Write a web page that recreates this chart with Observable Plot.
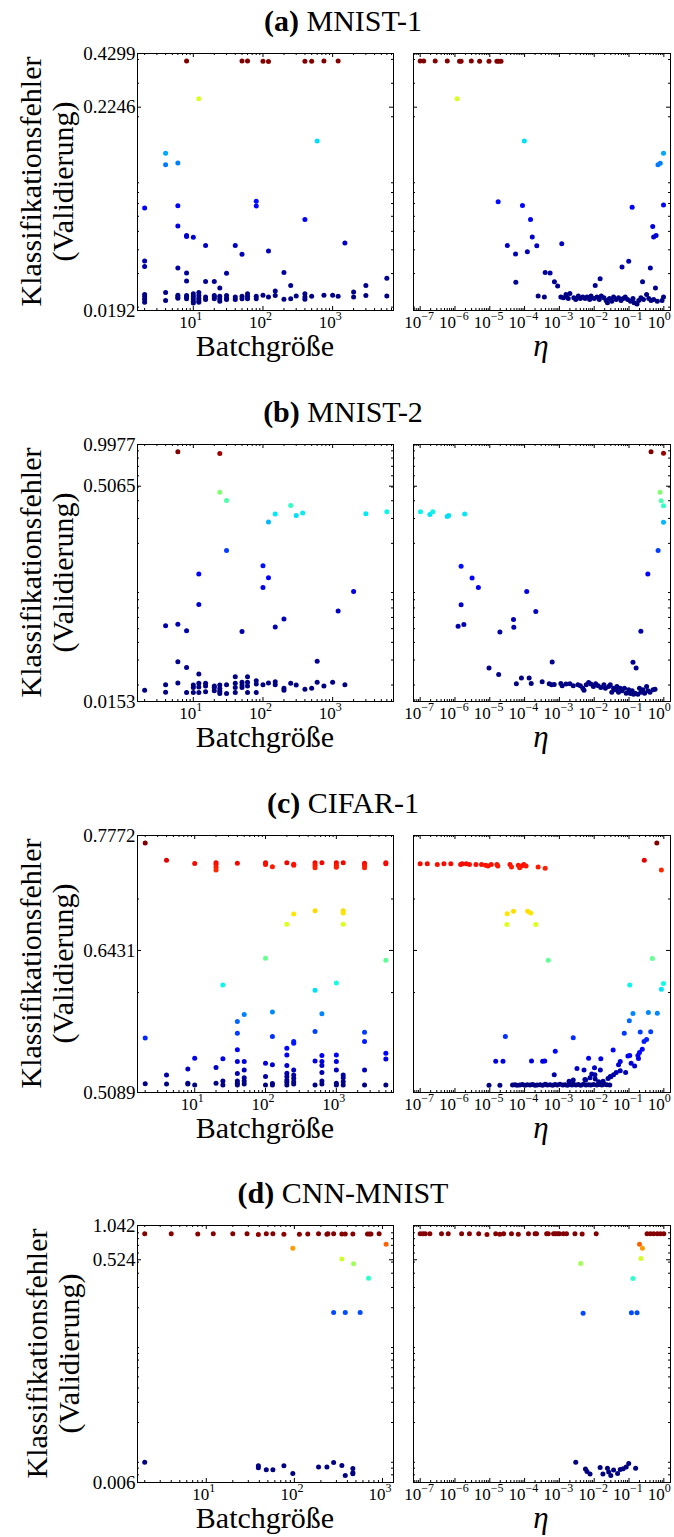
<!DOCTYPE html>
<html><head><meta charset="utf-8">
<script src="https://cdn.jsdelivr.net/npm/d3@7"></script>
<script src="https://cdn.jsdelivr.net/npm/@observablehq/plot@0.6"></script>
<style>
body{margin:0;background:#fff;}
#fig{position:relative;width:674px;height:1537px;overflow:hidden;background:#fff;}
#fig svg{position:absolute;}
</style></head><body><div id="fig"></div>
<script>
// ---------- tick labels / axis limits ----------
const aErrTicks = ["0.0192","0.2246","0.4299"];
const bErrTicks = ["0.0153","0.5065","0.9977"];
const cErrTicks = ["0.5089","0.6431","0.7772"];
const dErrTicks = ["0.006","0.524","1.042"];
const batchMajor = [10,100,1000];
const etaMajor = [1e-7,1e-6,1e-5,1e-4,1e-3,1e-2,1e-1,1];
const abBatchDomain = [1.58,7480];
const cBatchDomain = [1.557,6410];
const dBatchDomain = [1.656,1334];
const etaDomain = [6.43e-8,1.556];
const titles = [["(a)"," MNIST-1"],["(b)"," MNIST-2"],["(c)"," CIFAR-1"],["(d)"," CNN-MNIST"]];

// ---------- data: [batch size, error] and [eta, error] ----------
const aBatchPts = [[8,.393],[50,.393],[60,.393],[100,.392],[120,.390],[400,.392],[500,.392],[750,.393],[1200,.393],
[12,.249],[600,.149],[4,.1285],[4,.112],[6,.1143],
[2,.0664],[6,.0682],[80,.0719],[80,.068],[400,.0578],[6,.0533],[8,.0476],[8,.047],[10,.0466],[1500,.0434],[15,.0421],[40,.0422],[120,.0394],[50,.0379],[2,.0349],[2,.0327],[6,.0321],[200,.0304],[8,.0302],[30,.0301],[6000,.0284],[8,.0274],[15,.0273],[20,.0273],[3000,.026],[250,.026],[24,.0252],
[2,.0233],[2,.0226],[2,.0219],[2,.0212],[4,.0239],[4,.0217],[6,.0231],[6,.0226],[6,.0223],[8,.023],[8,.0226],[8,.0221],[10,.0235],[10,.0228],[10,.0221],[10,.0215],[10,.021],[12,.0239],[12,.023],[12,.0223],[12,.0217],[12,.0212],[15,.0226],[15,.0219],[20,.023],[20,.0226],[20,.0221],[24,.0228],[24,.0221],[24,.0215],[30,.023],[30,.0223],[30,.0219],[40,.0226],[40,.0219],[50,.0228],[50,.0221],[60,.0235],[60,.0228],[60,.0221],[80,.0228],[80,.0221],[100,.0231],[120,.0226],[150,.0243],[150,.023],[200,.022],[250,.0221],[300,.0229],[400,.0235],[400,.0226],[400,.022],[500,.0228],[750,.0231],[1000,.0231],[1200,.0228],[2000,.024],[2000,.0226],[3000,.023],[6000,.0229]];
const aEtaPts = [[1e-7,.393],[1.26e-7,.393],[2.7e-7,.393],[6e-7,.393],[1.35e-6,.392],[1.5e-6,.392],[2.95e-6,.393],[5.1e-6,.392],[9.5e-6,.391],[1.6e-5,.392],[1.8e-5,.392],[2.1e-5,.392],
[1.15e-6,.249],[9.8e-5,.149],[.98,.1285],[.68,.112],[.79,.114],
[1.74e-5,.0716],[8.7e-5,.0684],[.98,.0688],[.123,.067],[1.48e-4,.0578],[.48,.053],[.51,.0467],[.6,.0476],[1.66e-4,.0467],[3.2e-5,.0421],[2.24e-4,.042],[1.17e-3,.043],[1.2e-4,.0391],[5.5e-5,.038],[.098,.0348],[.063,.0325],[.41,.0321],[3.9e-4,.0304],[5.4e-4,.0302],[.0148,.0282],[7.2e-4,.0272],[5.6e-5,.027],[.245,.0272],[.0107,.026],[8.9e-4,.0258],[.575,.0252],[2.45e-4,.0229],[3.7e-4,.0226],[1.55e-3,.0233],[2e-3,.0236],
[1.1e-3,.0226],[1.3e-3,.0224],[1.6e-3,.0226],[1.8e-3,.0222],[2.6e-3,.0224],[2.95e-3,.0219],[3.5e-3,.0229],[4e-3,.0222],[4.7e-3,.0226],[5.5e-3,.0222],[6.2e-3,.0226],[7.4e-3,.0219],[8.1e-3,.0229],[.01,.0222],[.012,.0226],[.014,.0219],[.016,.0229],[.019,.0224],[.022,.0217],[.024,.0211],[.0275,.0222],[.032,.0215],[.036,.0226],[.043,.0219],[.05,.0224],[.059,.0217],[.068,.0222],[.078,.0226],[.091,.0219],[.11,.0215],[.13,.0222],[.14,.0211],[.17,.0208],[.19,.0217],[.22,.0224],[.26,.0219],[.32,.0233],[.37,.0222],[.43,.0217],[.51,.0219],[.65,.0215],[.89,.0217],[.98,.0226]];

const bBatchPts = [[6,.885],[24,.862],[24,.459],[30,.401],[250,.370],[150,.323],[300,.314],[372,.327],[120,.2836],[3000,.324],[6000,.335],[30,.178],[100,.139],[12,.1215],[120,.1145],[100,.0977],[2000,.0916],[12,.0741],[1200,.0665],[200,.0584],[4,.0525],[6,.0538],[150,.0513],[8,.0483],[50,.0478],[6,.0292],[600,.0294],[8,.0266],[12,.0239],
[2,.0184],[4,.0201],[4,.0178],[6,.0207],[8,.0177],[10,.02],[10,.0192],[10,.0177],[12,.0206],[12,.0194],[12,.0177],[15,.0206],[15,.0197],[15,.0179],[20,.0197],[20,.0192],[20,.0182],[24,.02],[24,.0189],[24,.0181],[24,.0174],[30,.0201],[30,.0174],[40,.0229],[40,.0206],[40,.0192],[40,.0177],[50,.0209],[50,.02],[50,.0192],[60,.0229],[60,.0209],[60,.0197],[60,.0177],[80,.0214],[80,.0203],[80,.0177],[100,.0201],[120,.0207],[150,.0211],[150,.0201],[200,.019],[200,.0184],[250,.0206],[300,.02],[400,.0187],[500,.019],[600,.0209],[750,.0197],[1000,.0209],[1500,.0201]];
const bEtaPts = [[.43,.885],[.98,.866],[.78,.459],[.84,.40],[.98,.369],[.98,.282],[.685,.178],[.347,.1216],[.219,.048],
[1.02e-7,.334],[1.9e-7,.32],[2.3e-7,.334],[6e-7,.31],[6.6e-7,.315],[1.9e-6,.323],
[1.5e-6,.138],[3.1e-6,.1137],[4.7e-6,.0977],[1.15e-4,.0915],[1.5e-6,.0737],[2.1e-4,.066],[4.8e-5,.058],[1.23e-6,.052],[1.8e-6,.0535],[4.9e-5,.0512],[1.95e-5,.0474],[6.2e-4,.0291],[.13,.029],[.16,.0264],[9.5e-6,.0264],[1.8e-5,.0237],[8.1e-5,.0224],[1.35e-4,.0224],[5.8e-5,.0204],[1.55e-4,.0205],[3.2e-4,.0211],
[5.1e-4,.0204],[6e-4,.0201],[7.1e-4,.0202],[1.1e-3,.0205],[1.2e-3,.0198],[1.55e-3,.0203],[2e-3,.0204],[2.5e-3,.0198],[3.4e-3,.0201],[4e-3,.0198],[4.7e-3,.019],[5.1e-3,.0184],[5.9e-3,.0201],[6.9e-3,.0208],[8e-3,.0203],[9.5e-3,.0195],[.011,.0204],[.013,.0198],[.0155,.0192],[.019,.0201],[.021,.019],[.026,.0195],[.029,.0201],[.032,.0178],[.036,.019],[.041,.0185],[.045,.0195],[.05,.0178],[.056,.019],[.063,.0182],[.074,.019],[.083,.0175],[.098,.0185],[.11,.0174],[.123,.0182],[.135,.0172],[.15,.0175],[.18,.0172],[.2,.019],[.22,.0178],[.25,.0185],[.28,.0175],[.32,.0195],[.35,.0182],[.4,.0178],[.49,.0185],[.56,.0187]];

const cBatchPts = [[2,.7677],[2,.5566],[2,.5163],[4,.746],[4,.5237],[4,.516],[8,.529],[8,.5167],[8,.516],[10,.7423],[10,.5385],[10,.5153],
[20,.743],[20,.741],[20,.7376],[20,.7344],[20,.5302],[20,.5167],[25,.6074],[25,.538],[25,.5186],[25,.5153],
[40,.7425],[40,.5721],[40,.561],[40,.546],[40,.5355],[40,.525],[40,.5186],[40,.5167],[40,.5153],
[50,.5787],[50,.5355],[50,.5282],[50,.5215],[50,.5186],[50,.516],
[100,.6349],[100,.743],[100,.741],[100,.534],[100,.5224],[100,.5153],
[125,.7381],[125,.581],[125,.5582],[125,.5326],[125,.5165],[125,.5153],
[200,.6716],[200,.743],[200,.5475],[200,.5414],[200,.532],[200,.5253],[200,.5224],[200,.5195],[200,.5176],[200,.5153],
[250,.6829],[250,.7413],[250,.74],[250,.5536],[250,.552],[250,.5282],[250,.5238],[250,.521],[250,.5181],[250,.516],
[500,.6866],[500,.743],[500,.74],[500,.737],[500,.6024],[500,.5627],[500,.536],[500,.5153],
[625,.743],[625,.5794],[625,.5409],[625,.5355],[625,.532],[625,.526],[625,.5186],[625,.516],
[1000,.743],[1000,.74],[1000,.7376],[1000,.6094],[1000,.5414],[1000,.5355],[1000,.5282],[1000,.5167],[1000,.5153],
[1250,.743],[1250,.6866],[1250,.684],[1250,.6716],[1250,.5238],[1250,.5215],[1250,.5181],[1250,.5153],
[2500,.7425],[2500,.74],[2500,.737],[2500,.562],[2500,.5536],[2500,.5282],[2500,.5153],
[5000,.743],[5000,.742],[5000,.6328],[5000,.543],[5000,.5378],[5000,.5153]];
const cEtaPts = [[.63,.7677],[.275,.7462],[.85,.7344],
[1e-7,.742],[1.6e-7,.742],[3.1e-7,.741],[4.8e-7,.742],[7.6e-7,.742],[1.45e-6,.741],[1.6e-6,.742],[2.1e-6,.742],[2.6e-6,.741],[4e-6,.741],[5.8e-6,.741],[7.6e-6,.740],[8.9e-6,.739],[1.1e-5,.741],[1.6e-5,.741],[1.7e-5,.739],[3.8e-5,.741],[4.2e-5,.738],[6.6e-5,.740],[7.2e-5,.737],[8.2e-5,.739],[9.5e-5,.741],[1.1e-4,.739],[2.45e-4,.738],[3.9e-4,.7365],
[3.16e-5,.6833],[4.8e-5,.6859],[1.23e-4,.6859],[1.5e-4,.684],[3.1e-5,.6712],[2.1e-4,.6712],
[4.8e-4,.6328],[.47,.6345],[.105,.6074],[.98,.609],[.85,.6032],
[.36,.5807],[.65,.58],[.13,.5797],[.102,.5728],[.073,.561],[.21,.5622],[.42,.5625],[2.8e-5,.5582],[2.5e-3,.557],
[.32,.5553],[.27,.5536],[.24,.5466],[.2,.5436],[.035,.5459],[.105,.541],[.093,.5405],[.18,.541],[.187,.5382],[.115,.534],[.145,.5317],[7.6e-4,.5446],[1.48e-5,.5358],[2.4e-5,.5358],[1.58e-4,.536],[3.3e-4,.5358],[3.8e-4,.536],[6.9e-3,.5385],[.0155,.538],[.015,.5282],[.0102,.53],[3.2e-3,.5295],[5.1e-3,.5282],[.056,.5356],[.056,.5275],[.05,.5327],[.043,.526],[.08,.526],[.036,.5239],[.029,.5225],[7.1e-4,.5241],
[9.5e-6,.515],[1.95e-5,.515],[4.5e-5,.5152],[5.3e-5,.5155],[6.1e-5,.515],[7.3e-5,.5153],[8.6e-5,.5156],[1.02e-4,.515],[1.19e-4,.5154],[1.43e-4,.5152],[1.7e-4,.5157],[1.99e-4,.5151],[2.3e-4,.5153],[2.8e-4,.5155],[3.3e-4,.515],[3.9e-4,.5158],[4.5e-4,.5152],[5.4e-4,.5154],[6.4e-4,.5151],[7.5e-4,.5156],[8.7e-4,.5153],[1.04e-3,.5159],[1.25e-3,.5152],[1.46e-3,.5155],[1.7e-3,.5151],[2e-3,.5157],[2.3e-3,.5153],[2.5e-3,.516],[3e-3,.5152],[3.5e-3,.5156],[4.1e-3,.5151],[4.9e-3,.5158],[5.8e-3,.5153],[6.9e-3,.5155],[8e-3,.5152],[9.6e-3,.5157],[.0119,.5153],[.0139,.5156],[.0166,.5152],[.0194,.5158],[.023,.5155],[.028,.5153],
[1.9e-3,.5184],[2.5e-3,.5194],[5.4e-3,.52],[7.6e-3,.5215],[.0107,.5203],[.0134,.518],[.018,.5184],[.025,.5208],[.03,.5222],[.0105,.5241],[8.5e-3,.5246],[5.7e-3,.5195]];

const dBatchPts = [[2,.881],[4,.881],[8,.879],[12,.881],[20,.885],[29,.883],[39,.872],[48,.881],[57,.881],[76,.876],[114,.876],[142,.879],[188,.881],[234,.876],[240,.885],[279,.885],[346,.879],[378,.879],[461,.879],[676,.879],[713,.879],[740,.879],[916,.885],
[96,.661],[1100,.716],[346,.533],[470,.4825],[695,.3617],[279,.1815],[378,.1815],[558,.1815],
[2,.00903],[39,.00839],[39,.00806],[48,.00774],[57,.00774],[76,.00839],[96,.00719],[188,.00817],[234,.0082],[279,.00897],[346,.00846],[378,.0069],[461,.00794],[461,.0073],[461,.00715]];
const dEtaPts = [[1e-7,.881],[1.2e-7,.881],[1.4e-7,.881],[1.9e-7,.881],[4.1e-7,.881],[6.4e-7,.881],[1.55e-6,.881],[2.6e-6,.881],[4.8e-6,.881],[8.3e-6,.872],[1.48e-5,.881],[1.95e-5,.876],[2.5e-5,.881],[4.2e-5,.881],[6.6e-5,.876],[1.29e-4,.881],[2e-4,.885],[2.2e-4,.881],[4.3e-4,.881],[4.8e-4,.881],[6.8e-4,.881],[7.6e-4,.881],[8.8e-4,.881],[1e-3,.885],[1.3e-3,.885],[1.6e-3,.881],[2.8e-3,.885],[4.5e-3,.879],[1.14e-2,.885],[.33,.881],[.41,.881],[.51,.881],[.65,.881],[.8,.881],[1,.881],
[.2,.716],[.243,.661],[.22,.537],[4.1e-3,.486],[.13,.359],[4.8e-3,.179],[.117,.181],[.17,.181],
[2.95e-3,.00903],[5.6e-3,.00787],[6.2e-3,.0075],[7.6e-3,.0071],[.0148,.0081],[.0178,.0071],[.024,.008],[.026,.0074],[.03,.0069],[.036,.0077],[.047,.0072],[.056,.0078],[.068,.0079],[.083,.0082],[.098,.0088],[.155,.008]];

// ---------- jet colormap (matplotlib segment definition) ----------
const jetR = [[0,0],[0.35,0],[0.66,1],[0.89,1],[1,0.5]];
const jetG = [[0,0],[0.125,0],[0.375,1],[0.64,1],[0.91,0],[1,0]];
const jetB = [[0,0.5],[0.11,1],[0.34,1],[0.65,0],[1,0]];
function seg(s, t) {
  for (let i = 1; i < s.length; i++) {
    if (t <= s[i][0]) { const [x0,y0] = s[i-1], [x1,y1] = s[i]; return y0 + (y1-y0)*(t-x0)/(x1-x0); }
  }
  return s[s.length-1][1];
}
function jet(t) {
  const u = Math.max(0, Math.min(1, t));
  return `rgb(${Math.round(255*seg(jetR,u))},${Math.round(255*seg(jetG,u))},${Math.round(255*seg(jetB,u))})`;
}

const expo = d => String(Math.round(Math.log10(d))).replace("-", "\u2212");

function subTicks(domain) {
  const out = [];
  for (let n = Math.floor(Math.log10(domain[0])); n <= Math.ceil(Math.log10(domain[1])); n++)
    for (let k = 2; k <= 9; k++) { const v = k * Math.pow(10, n); if (v >= domain[0] && v <= domain[1]) out.push(v); }
  return out;
}

const FONT = "'Liberation Serif', 'DejaVu Serif', serif";
const fig = document.getElementById("fig");
const H = 257, MT = 12, MB = 34;

function panel(pts, {xDomain, xMajor, yLabels, left, top, frameW, mL, mR, showY, baseDx}) {
  const yVals = yLabels.map(Number);
  const yDomain = [yVals[0], yVals[yVals.length-1]];
  const xMaj = xMajor.filter(v => v >= xDomain[0] && v <= xDomain[1]);
  const xMin = subTicks(xDomain);
  const yMin = subTicks(yDomain);
  const W = frameW;
  const marks = [
    Plot.tickX(xMaj, {x: d => d, insetBottom: H - 4, stroke: "black"}),
    Plot.tickX(xMaj, {x: d => d, insetTop: H - 4, stroke: "black"}),
    Plot.tickX(xMin, {x: d => d, insetBottom: H - 2, stroke: "black"}),
    Plot.tickX(xMin, {x: d => d, insetTop: H - 2, stroke: "black"}),
    Plot.tickY(yVals, {y: d => d, insetRight: W - 4, stroke: "black"}),
    Plot.tickY(yVals, {y: d => d, insetLeft: W - 4, stroke: "black"}),
    Plot.tickY(yMin, {y: d => d, insetRight: W - 2, stroke: "black"}),
    Plot.tickY(yMin, {y: d => d, insetLeft: W - 2, stroke: "black"}),
    // x tick labels: "10" with superscript exponent
    Plot.text(xMaj, {x: d => d, text: () => "10", frameAnchor: "bottom", lineAnchor: "top", textAnchor: "end", dx: baseDx, dy: 5, fontSize: 17, fill: "black"}),
    Plot.text(xMaj, {x: d => d, text: expo, frameAnchor: "bottom", lineAnchor: "top", textAnchor: "start", dx: baseDx, dy: 1, fontSize: 12, fill: "black"}),
    Plot.dot(pts, {x: d => d[0], y: d => d[1], fill: d => d[1], r: 2.5}),
    Plot.frame({stroke: "black", strokeWidth: 1})
  ];
  if (showY) marks.push(Plot.text(yVals, {y: d => d, text: (d, i) => yLabels[i], frameAnchor: "left", textAnchor: "end", dx: -2, fontSize: 19, fill: "black"}));
  const svg = Plot.plot({
    width: mL + W + mR, height: MT + H + MB,
    marginLeft: mL, marginRight: mR, marginTop: MT, marginBottom: MB,
    x: {type: "log", domain: xDomain, axis: null},
    y: {type: "log", domain: yDomain, axis: null},
    color: {type: "linear", interpolate: jet},
    style: {fontFamily: FONT, background: "transparent", color: "black", overflow: "visible"},
    marks
  });
  svg.style.left = left + "px";
  svg.style.top = (top - MT) + "px";
  fig.appendChild(svg);
}

const rows = [
  {top: 53, batch: aBatchPts, eta: aEtaPts, bDom: abBatchDomain, labels: aErrTicks, yShift: 0},
  {top: 444, batch: bBatchPts, eta: bEtaPts, bDom: abBatchDomain, labels: bErrTicks, yShift: 0},
  {top: 835, batch: cBatchPts, eta: cEtaPts, bDom: cBatchDomain, labels: cErrTicks, yShift: 0},
  {top: 1225, batch: dBatchPts, eta: dEtaPts, bDom: dBatchDomain, labels: dErrTicks, yShift: 6}
];

rows.forEach(r => {
  panel(r.batch, {xDomain: r.bDom, xMajor: batchMajor, yLabels: r.labels, left: 0, top: r.top, frameW: 256, mL: 137, mR: 6, showY: true, baseDx: 3});
  panel(r.eta, {xDomain: etaDomain, xMajor: etaMajor, yLabels: r.labels, left: 400, top: r.top, frameW: 257, mL: 13, mR: 4, showY: false, baseDx: 1});
});

// ---------- text overlay ----------
const ov = d3.select("#fig").append("svg")
  .attr("width", 674).attr("height", 1537)
  .style("left", "0px").style("top", "0px").style("pointer-events", "none")
  .style("font-family", FONT);

rows.forEach((r, i) => {
  const t = ov.append("text").attr("x", 343).attr("y", r.top - 22).attr("text-anchor", "middle").attr("font-size", 30);
  t.append("tspan").attr("font-weight", "bold").text(titles[i][0]);
  t.append("tspan").text(titles[i][1]);
  const bottom = r.top + H;
  ov.append("text").attr("x", 265).attr("y", bottom + 46).attr("text-anchor", "middle").attr("font-size", 30).text("Batchgröße");
  ov.append("text").attr("x", 541).attr("y", bottom + 46).attr("text-anchor", "middle").attr("font-size", 31).attr("font-style", "italic").text("η");
  const cy = r.top + H / 2;
  ov.append("text").attr("transform", `translate(${41 + r.yShift},${cy}) rotate(-90)`).attr("text-anchor", "middle").attr("font-size", 30).text("Klassifikationsfehler");
  ov.append("text").attr("transform", `translate(${73 + r.yShift},${cy}) rotate(-90)`).attr("text-anchor", "middle").attr("font-size", 30).text("(Validierung)");
});
</script></body></html>
